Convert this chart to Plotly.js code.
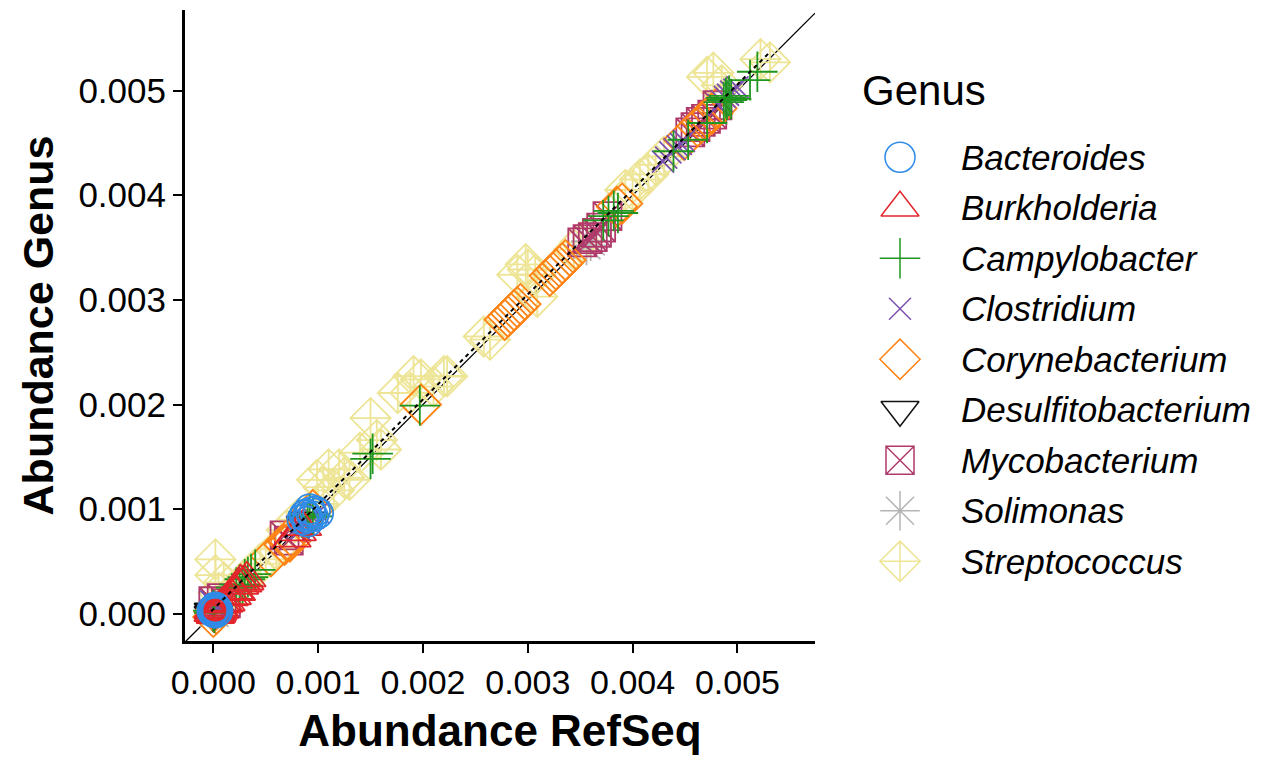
<!DOCTYPE html>
<html>
<head>
<meta charset="utf-8">
<script src="https://cdn.plot.ly/plotly-3.0.1.min.js"></script>
<style>html,body{margin:0;padding:0;background:#fff;}#chart{width:1273px;height:757px;}</style>
</head>
<body>
<div id="chart"></div>
<script>
// ---------- data ----------
var genera = ["Bacteroides","Burkholderia","Campylobacter","Clostridium","Corynebacterium","Desulfitobacterium","Mycobacterium","Solimonas","Streptococcus"];

var bacteroidesX = [0.0, 0.00001, 0.00002, 0.0, 0.00003, 0.00001, -0.00001, 0.00002, 0.00004, 0.00085, 0.00088, 0.0009, 0.00093, 0.00095, 0.00097, 0.0009, 0.00087, 0.00092, 0.001];
var bacteroidesY = [0.00002, 0.00004, 0.00001, 0.00003, 0.00002, 0.00005, 0.00003, 0.00006, 0.00003, 0.0009, 0.00095, 0.00092, 0.00097, 0.00093, 0.00098, 0.00088, 0.00094, 0.001, 0.00096];

var burkholderiaX = [0, 0.00001, 0.00003, 0.00005, 0.00006, 0.00008, 0.0001, 0.00012, 0.00015, 0.00018, 0.0002, 0.00022, 0.00025, 0.00028, 0.0003, 0.00002, 0.0, 0.00004, 0.00026, 0.00032, 0.00075, 0.0008, 0.00085];
var burkholderiaY = [0.00001, 0.00003, 0.0, 0.00006, 0.00004, 0.00009, 0.0001, 0.00011, 0.00016, 0.00017, 0.00022, 0.00021, 0.00027, 0.00029, 0.00031, -0.00001, 0.00004, 0.00002, 0.00031, 0.00034, 0.00072, 0.00078, 0.00083];

var campylobacterX = [0.00001, 0.0, 0.00022, 0.00025, 0.00028, 0.0003, 0.00033, 0.00036, 0.0004, 0.0009, 0.00092, 0.00095, 0.0015, 0.00152, 0.00197, 0.00372, 0.00377, 0.00382, 0.00386, 0.00439, 0.00453, 0.00471, 0.00487, 0.00489, 0.0049, 0.00492, 0.00494, 0.00512, 0.00519];
var campylobacterY = [0.00001, 0.00003, 0.00025, 0.00028, 0.00027, 0.00033, 0.00035, 0.00038, 0.00042, 0.00092, 0.00095, 0.00093, 0.00148, 0.00153, 0.00199, 0.00376, 0.0038, 0.00385, 0.00383, 0.00442, 0.00453, 0.00469, 0.00489, 0.00493, 0.00491, 0.00495, 0.00492, 0.0051, 0.00518];

var clostridiumX = [0.0, -0.00002, 0.00003, 0.0001, 0.0008, 0.00083, 0.00086, 0.00095, 0.001, 0.00429, 0.00432, 0.00436, 0.0044, 0.00443, 0.00446, 0.00449, 0.00482, 0.00485, 0.00488, 0.00491, 0.00494, 0.00497, 0.005];
var clostridiumY = [0.0001, 0.00012, 0.00005, 0.00012, 0.00083, 0.0008, 0.00087, 0.00092, 0.00097, 0.00432, 0.00436, 0.00441, 0.00444, 0.00447, 0.00449, 0.00452, 0.00486, 0.0049, 0.00494, 0.00496, 0.00499, 0.00501, 0.00503];

var corynebacteriumX = [0.0, 0.00001, 0.00003, 0.00055, 0.00068, 0.0007, 0.00073, 0.00095, 0.00198, 0.00278, 0.00281, 0.00284, 0.00287, 0.0029, 0.00293, 0.00321, 0.00324, 0.00327, 0.0033, 0.00333, 0.00336, 0.00385, 0.0039, 0.00449, 0.00462, 0.00466, 0.00471, 0.00476, 0.0048];
var corynebacteriumY = [-0.00003, 0.00002, 0.0, 0.00055, 0.00066, 0.0007, 0.00069, 0.00099, 0.002, 0.00281, 0.00284, 0.00287, 0.0029, 0.00293, 0.00296, 0.00323, 0.00326, 0.00329, 0.00332, 0.00335, 0.00338, 0.00389, 0.00392, 0.00453, 0.00466, 0.0047, 0.00474, 0.00478, 0.00483];

var desulfitobacteriumX = [0.0, 0.00001, 0.0, 0.0009, 0.00088];
var desulfitobacteriumY = [-0.00001, 0.00001, 0.00002, 0.00089, 0.00085];

var mycobacteriumX = [0.0, 0.00008, 0.00012, 0.00068, 0.00072, 0.00352, 0.00357, 0.00362, 0.00366, 0.0037, 0.00376, 0.00455, 0.0046, 0.00465, 0.0047, 0.00476, 0.00481];
var mycobacteriumY = [0.00012, 0.00015, 0.0001, 0.00075, 0.0007, 0.00355, 0.00358, 0.0036, 0.00364, 0.00369, 0.0038, 0.0046, 0.00465, 0.0047, 0.00473, 0.00477, 0.00486];

var solimonasX = [0.00001, 0.00356, 0.0036];
var solimonasY = [0.00001, 0.00352, 0.00356];

var streptococcusX = [0.00002, 0.00002, 0.00005, 0.0001, 0.0002, 0.0003, 0.0004, 0.00045, 0.0005, 0.0006, 0.0007, 0.0008, 0.001, 0.00099, 0.00105, 0.0011, 0.00115, 0.0012, 0.00125, 0.0013, 0.0014, 0.0015, 0.00156, 0.0016, 0.00176, 0.00188, 0.00191, 0.00198, 0.0021, 0.0022, 0.00223, 0.00258, 0.00264, 0.0029, 0.00298, 0.003, 0.00307, 0.00309, 0.00344, 0.0035, 0.00393, 0.004, 0.00407, 0.00415, 0.00422, 0.0043, 0.00471, 0.00477, 0.00485, 0.00522, 0.00531];
var streptococcusY = [0.00052, 0.00037, 0.0002, 0.0003, 0.00023, 0.00033, 0.00042, 0.00048, 0.00052, 0.00062, 0.0008, 0.0009, 0.00105, 0.00128, 0.00121, 0.00138, 0.00118, 0.00138, 0.0013, 0.00128, 0.00154, 0.00187, 0.00166, 0.00157, 0.00211, 0.00211, 0.00227, 0.00224, 0.00217, 0.00227, 0.00227, 0.00265, 0.00262, 0.00324, 0.00334, 0.00329, 0.00324, 0.00303, 0.00348, 0.00355, 0.00405, 0.00405, 0.00415, 0.0042, 0.00429, 0.00437, 0.00513, 0.00517, 0.00505, 0.0053, 0.00527];

var tickVals = [0, 0.001, 0.002, 0.003, 0.004, 0.005];
var tickText = ["0.000", "0.001", "0.002", "0.003", "0.004", "0.005"];

// ---------- styles ----------
var style = {
  "Bacteroides":        {sym: "circle-open",        color: "#2F8BE6", size: 30},
  "Burkholderia":       {sym: "triangle-up-open",   color: "#E3262C", size: 33},
  "Campylobacter":      {sym: "cross-thin-open",    color: "#1F961F", size: 29},
  "Clostridium":        {sym: "x-thin-open",        color: "#7B52AE", size: 22},
  "Corynebacterium":    {sym: "diamond-open",       color: "#FF8415", size: 31},
  "Desulfitobacterium": {sym: "triangle-down-open", color: "#111111", size: 33},
  "Mycobacterium":      {sym: "square-x-open",      color: "#B03A6A", size: 28},
  "Solimonas":          {sym: "asterisk-open",      color: "#B5B5B5", size: 33},
  "Streptococcus":      {sym: "diamond-cross-open", color: "#EDE595", size: 31}
};

var series = {
  "Bacteroides": [bacteroidesX, bacteroidesY],
  "Burkholderia": [burkholderiaX, burkholderiaY],
  "Campylobacter": [campylobacterX, campylobacterY],
  "Clostridium": [clostridiumX, clostridiumY],
  "Corynebacterium": [corynebacteriumX, corynebacteriumY],
  "Desulfitobacterium": [desulfitobacteriumX, desulfitobacteriumY],
  "Mycobacterium": [mycobacteriumX, mycobacteriumY],
  "Solimonas": [solimonasX, solimonasY],
  "Streptococcus": [streptococcusX, streptococcusY]
};

var drawOrder = ["Streptococcus","Solimonas","Desulfitobacterium","Mycobacterium","Corynebacterium","Clostridium","Campylobacter","Burkholderia","Bacteroides"];

var xRange = [-0.00027, 0.00574];
var yRange = [-0.00026, 0.00577];

var traces = [];
// identity line y = x
traces.push({x: xRange, y: xRange, mode: "lines", line: {color: "#000", width: 1.3}, showlegend: false, hoverinfo: "skip", xaxis: "x", yaxis: "y"});

drawOrder.forEach(function (g) {
  var s = style[g];
  traces.push({
    x: series[g][0], y: series[g][1], type: "scatter", mode: "markers", name: g,
    showlegend: false, cliponaxis: true,
    marker: {symbol: s.sym, size: s.size, color: s.color, line: {width: 1.8, color: s.color}},
    xaxis: "x", yaxis: "y"
  });
});

// linear fit (least squares over all points)
var ax = [], ay = [];
genera.forEach(function (g) { ax = ax.concat(series[g][0]); ay = ay.concat(series[g][1]); });
var n = ax.length, mx = 0, my = 0;
for (var i = 0; i < n; i++) { mx += ax[i]; my += ay[i]; }
mx /= n; my /= n;
var sxy = 0, sxx = 0;
for (var i = 0; i < n; i++) { sxy += (ax[i]-mx)*(ay[i]-my); sxx += (ax[i]-mx)*(ax[i]-mx); }
var slope = sxy / sxx, icpt = my - slope*mx;
var fx = [Math.min.apply(null, ax), Math.max.apply(null, ax)];
traces.push({x: fx, y: fx.map(function (v) { return icpt + slope*v; }), mode: "lines",
  line: {color: "#000", width: 2, dash: "4px,4px"}, showlegend: false, hoverinfo: "skip", xaxis: "x", yaxis: "y"});

// custom legend (markers drawn on a small helper subplot)
genera.forEach(function (g) {
  var s = style[g];
  traces.push({x: [0.5], y: [g], type: "scatter", mode: "markers", showlegend: false, hoverinfo: "skip",
    marker: {symbol: s.sym, size: s.size, color: s.color, line: {width: 1.5, color: s.color}},
    xaxis: "x2", yaxis: "y2", cliponaxis: false});
});

var W = 1273, H = 757;
var font = "Liberation Sans, Arial, Helvetica, sans-serif";

var annotations = [{
  text: "Genus", xref: "paper", yref: "paper", x: 860 / W, y: (H - 91) / H,
  xanchor: "left", yanchor: "middle", showarrow: false, font: {family: font, size: 42, color: "#000"}
}];
genera.forEach(function (g) {
  annotations.push({text: "<i>" + g + "</i>", xref: "paper", yref: "y2", x: 959 / W, y: g,
    xanchor: "left", yanchor: "middle", showarrow: false, font: {family: font, size: 35, color: "#000"}});
});

var layout = {
  width: W, height: H,
  margin: {l: 0, r: 0, t: 0, b: 0},
  paper_bgcolor: "#fff", plot_bgcolor: "#fff",
  font: {family: font, color: "#000"},
  showlegend: false,
  xaxis: {
    domain: [185 / W, 815 / W], range: xRange, autorange: false,
    showgrid: false, zeroline: false, showline: true, linecolor: "#000", linewidth: 3,
    ticks: "outside", ticklen: 9, tickwidth: 2, tickcolor: "#000",
    tickvals: tickVals, ticktext: tickText, tickfont: {family: font, size: 34, color: "#000"},
    title: {text: "<b>Abundance RefSeq</b>", font: {family: font, size: 44, color: "#000"}, standoff: 16},
    automargin: false, anchor: "y"
  },
  yaxis: {
    domain: [(H - 641) / H, (H - 10) / H], range: yRange, autorange: false,
    showgrid: false, zeroline: false, showline: true, linecolor: "#000", linewidth: 3,
    ticks: "outside", ticklen: 9, tickwidth: 2, tickcolor: "#000",
    tickvals: tickVals, ticktext: tickText, tickfont: {family: font, size: 35, color: "#000"},
    title: {text: "<b>Abundance Genus</b>", font: {family: font, size: 43, color: "#000"}, standoff: 12},
    automargin: false, anchor: "x"
  },
  xaxis2: {domain: [870 / W, 930 / W], range: [0, 1], visible: false, fixedrange: true, anchor: "y2"},
  yaxis2: {domain: [(H - 586.5) / H, (H - 132) / H], type: "category", categoryarray: genera,
    categoryorder: "array", range: [8.5, -0.5], autorange: false, visible: false, fixedrange: true, anchor: "x2"},
  annotations: annotations
};

Plotly.newPlot("chart", traces, layout, {displayModeBar: false, staticPlot: true});
</script>
</body>
</html>
